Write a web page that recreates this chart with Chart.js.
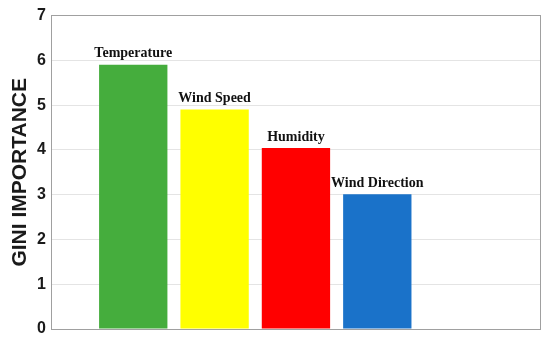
<!DOCTYPE html>
<html>
<head>
<meta charset="utf-8">
<script src="https://cdn.jsdelivr.net/npm/chart.js@4"></script>
<style>
  html, body { margin: 0; padding: 0; background: #fff; }
  #wrap { width: 550px; height: 347px; }
</style>
</head>
<body>
<div id="wrap"><canvas id="giniChart" width="550" height="347"></canvas></div>
<script>
const categories = ['Temperature', 'Wind Speed', 'Humidity', 'Wind Direction'];
const importance = [5.9, 4.9, 4.04, 3.01];
const barColors = ['#45ad3d', '#ffff00', '#ff0000', '#1a72c9'];
const yTicks = [0, 1, 2, 3, 4, 5, 6, 7];

// one empty slot before the bars and two after, like the original axis
const slotLabels = ['', ...categories, '', ''];
const slotValues = [null, ...importance, null, null];
const slotColors = ['#fff', ...barColors, '#fff', '#fff'];

const barLabels = {
    id: 'barLabels',
    afterDatasetsDraw(chart) {
        const ctx = chart.ctx;
        const meta = chart.getDatasetMeta(0);
        ctx.save();
        ctx.font = 'bold 14px "Liberation Serif", "Times New Roman", serif';
        ctx.fillStyle = '#111';
        ctx.textAlign = 'center';
        ctx.textBaseline = 'bottom';
        meta.data.forEach((bar, i) => {
            if (slotValues[i] == null) return;
            ctx.fillText(slotLabels[i], bar.x, bar.y - 4);
        });
        ctx.restore();
    }
};

const ctx = document.getElementById('giniChart').getContext('2d');
new Chart(ctx, {
    type: 'bar',
    data: {
        labels: slotLabels,
        datasets: [{
            data: slotValues,
            backgroundColor: slotColors,
            borderWidth: 0,
            barPercentage: 0.84,
            categoryPercentage: 1
        }]
    },
    options: {
        responsive: false,
        animation: false,
        layout: { padding: { top: 3, right: 2, bottom: 10, left: 10 } },
        plugins: {
            legend: { display: false },
            tooltip: { enabled: false }
        },
        scales: {
            x: {
                offset: false,
                ticks: { display: false },
                grid: { display: false },
                border: { display: true, color: '#a0a0a0', width: 1 }
            },
            y: {
                min: 0,
                max: 7,
                afterBuildTicks(scale) {
                    scale.ticks = yTicks.map(v => ({ value: v }));
                },
                ticks: {
                    color: '#1a1a1a',
                    padding: 6,
                    font: { family: '"Liberation Sans", Arial, sans-serif', size: 16, weight: 'bold' }
                },
                grid: { color: '#e4e4e4', drawTicks: false },
                border: { display: true, color: '#a0a0a0', width: 1 },
                title: {
                    display: true,
                    text: 'GINI IMPORTANCE',
                    color: '#1a1a1a',
                    padding: { top: 0, bottom: 0 },
                    font: { family: '"Liberation Sans", Arial, sans-serif', size: 21, weight: 'bold', lineHeight: 1 }
                }
            },
            x2: {
                position: 'top',
                type: 'category',
                labels: slotLabels,
                offset: false,
                ticks: { display: false, padding: 0 },
                grid: { display: false },
                border: { display: true, color: '#a0a0a0', width: 1 }
            },
            y2: {
                position: 'right',
                min: 0,
                max: 7,
                ticks: { display: false, padding: 0 },
                grid: { display: false },
                border: { display: true, color: '#a0a0a0', width: 1 }
            }
        }
    },
    plugins: [barLabels]
});
</script>
</body>
</html>
